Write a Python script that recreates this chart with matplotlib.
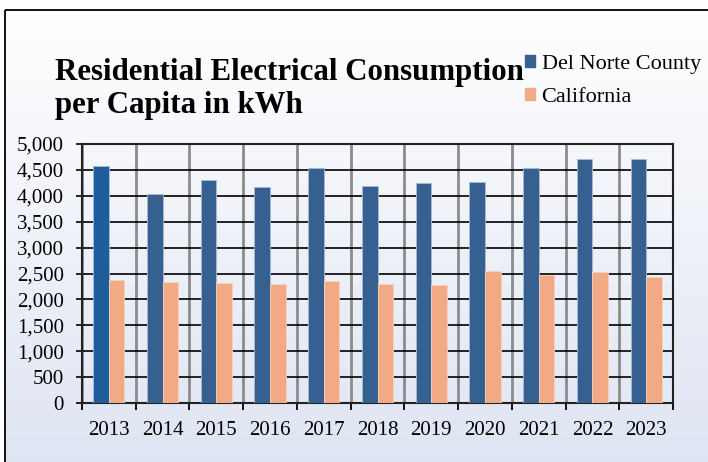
import numpy as np
import matplotlib.pyplot as plt
from matplotlib.patches import Rectangle, Patch
from matplotlib.colors import LinearSegmentedColormap
from matplotlib.ticker import FuncFormatter

# Data (kWh per capita)
years = ['2013', '2014', '2015', '2016', '2017', '2018', '2019', '2020', '2021', '2022', '2023']
del_norte = [4575, 4030, 4310, 4170, 4530, 4190, 4245, 4265, 4535, 4705, 4715]
california = [2375, 2340, 2315, 2295, 2355, 2295, 2285, 2540, 2470, 2520, 2430]

blue = '#36608F'
orange = '#F2AA84'
W, H = 708, 462

plt.rcParams['font.family'] = ['Liberation Serif', 'DejaVu Serif']
fig = plt.figure(figsize=(W / 100, H / 100), dpi=100)

# Background gradient + outer frame
bg = fig.add_axes([0, 0, 1, 1], zorder=-10)
bg.set_xlim(0, W)
bg.set_ylim(H, 0)
bg.axis('off')
grad = np.linspace(0, 1, 256).reshape(-1, 1)
cmap = LinearSegmentedColormap.from_list('bg', ['#FFFFFF', '#DEE4F2'])
bg.imshow(grad, cmap=cmap, extent=[5, W + 20, H + 10, 10], aspect='auto')
bg.add_patch(Rectangle((5, 10), W + 20, H + 20, fill=False, lw=1.3, ec='black'))

# Main plot
ax = fig.add_axes([82 / W, 1 - 403 / H, (673 - 82) / W, (403 - 144) / H])
ax.patch.set_alpha(0)
x = np.arange(len(years))
bw = 0.29
bar_colors = ['#1F5E9C'] + [blue] * (len(years) - 1)
ax.bar(x - bw / 2, del_norte, bw, color=bar_colors, edgecolor='#A9BBD3', linewidth=0.6, zorder=3)
ax.bar(x + bw / 2, california, bw, color=orange, edgecolor='#F8D2BE', linewidth=0.6, zorder=3)

ax.set_xlim(-0.5, len(years) - 0.5)
ax.set_ylim(0, 5000)
ax.set_yticks(np.arange(0, 5001, 500))
ax.yaxis.set_major_formatter(FuncFormatter(lambda v, p: f'{int(v):,}'))
ax.set_xticks(x)
ax.set_xticklabels(years)
ax.set_xticks(np.arange(-0.5, len(years), 1), minor=True)

ax.grid(axis='y', which='major', color='black', lw=1.2, zorder=1)
ax.grid(axis='x', which='minor', color='#8C8C8C', lw=2, zorder=1)
ax.set_axisbelow(True)

ax.tick_params(axis='x', which='major', length=0, labelsize=15, pad=13)
ax.tick_params(axis='x', which='minor', length=5, width=1.3, direction='out')
ax.tick_params(axis='y', length=4, width=1.2, labelsize=15, pad=9)
for s in ax.spines.values():
    s.set_linewidth(1.5)
    s.set_color('#222222')

# Title
fig.text(55 / W, 1 - 58 / H, 'Residential Electrical Consumption\nper Capita in kWh',
         ha='left', va='top', fontsize=22.2, fontweight='bold', linespacing=1.2)

# Legend
handles = [Patch(color=blue, label='Del Norte County'), Patch(color=orange, label='California')]
fig.legend(handles=handles, loc='upper left', bbox_to_anchor=(516 / W, 1 - 46 / H),
           frameon=False, fontsize=16, handlelength=0.45, handleheight=0.45,
           handletextpad=0.3, labelspacing=0.65, borderaxespad=0)

fig.savefig('out.png', dpi=100)
